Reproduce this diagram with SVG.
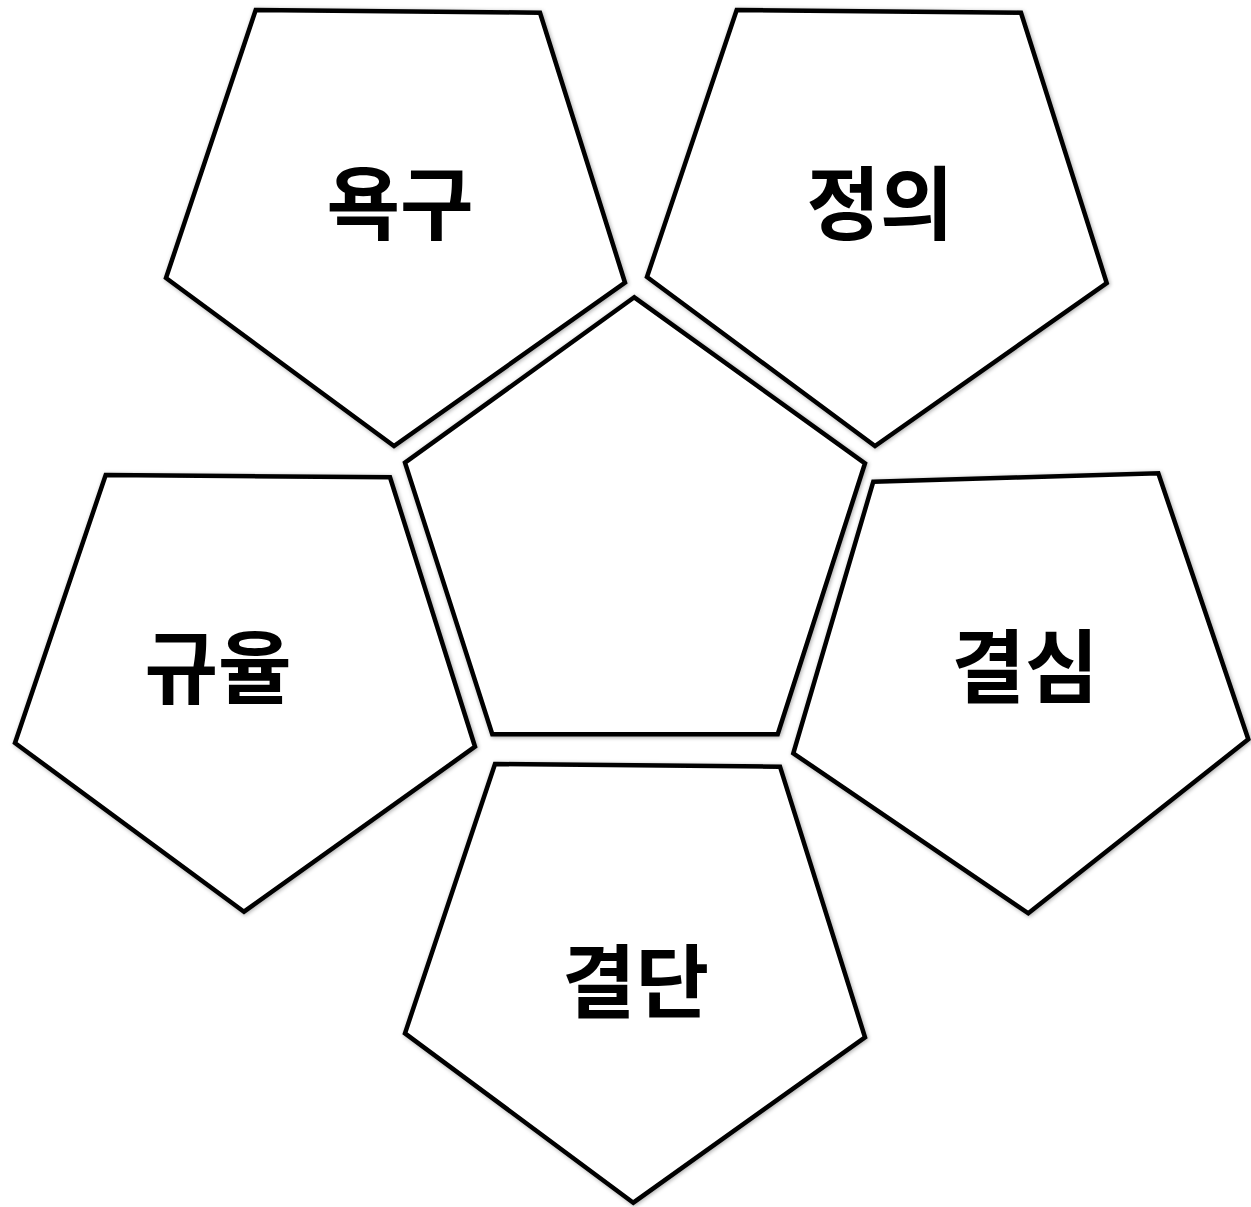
<svg xmlns="http://www.w3.org/2000/svg" width="1251" height="1207" viewBox="0 0 1251 1207">
<defs>
<filter id="sh" x="-10%" y="-10%" width="120%" height="120%">
<feGaussianBlur in="SourceAlpha" stdDeviation="2"/>
<feOffset dx="1" dy="1" result="b"/>
<feComponentTransfer><feFuncA type="linear" slope="0.35"/></feComponentTransfer>
<feMerge><feMergeNode/><feMergeNode in="SourceGraphic"/></feMerge>
</filter>
</defs>
<style>
.p{fill:#fff;stroke:#000;stroke-width:4.5;stroke-linejoin:miter;filter:url(#sh)}
.t{font-family:"Noto Sans CJK KR","Noto Sans",sans-serif;font-weight:bold;font-size:80px;fill:#000;text-anchor:middle;dominant-baseline:central}
</style>
<rect width="1251" height="1207" fill="#fff"/>
<g id="connectors"></g>
<g id="node-center">
<polygon class="p" points="634.3,297.3 865,463.3 777.7,734.3 492.3,734.3 405,462.7"/>
</g>
<g id="node-yokgu">
<polygon class="p" points="255.7,10 540,12.7 625,282.7 394,446 166,278"/>
<text class="t" x="400" y="198">욕구</text>
</g>
<g id="node-jeongui">
<polygon class="p" points="736.7,10 1021,12.7 1106.7,283 875,446 647,277"/>
<text class="t" x="880" y="198">정의</text>
</g>
<g id="node-gyuyul">
<polygon class="p" points="105.7,475 390,477.3 475,746.7 244,911.7 15,743"/>
<text class="t" x="218" y="662">규율</text>
</g>
<g id="node-gyeolsim">
<polygon class="p" points="873.3,481.7 1158.3,473.3 1248.3,739.3 1028.3,913.3 793.3,753.3"/>
<text class="t" x="1025" y="661">결심</text>
</g>
<g id="node-gyeoldan">
<polygon class="p" points="495,764 780,766.7 865,1037.3 633.3,1202.7 405,1033.3"/>
<text class="t" x="635.5" y="976">결단</text>
</g>
</svg>
